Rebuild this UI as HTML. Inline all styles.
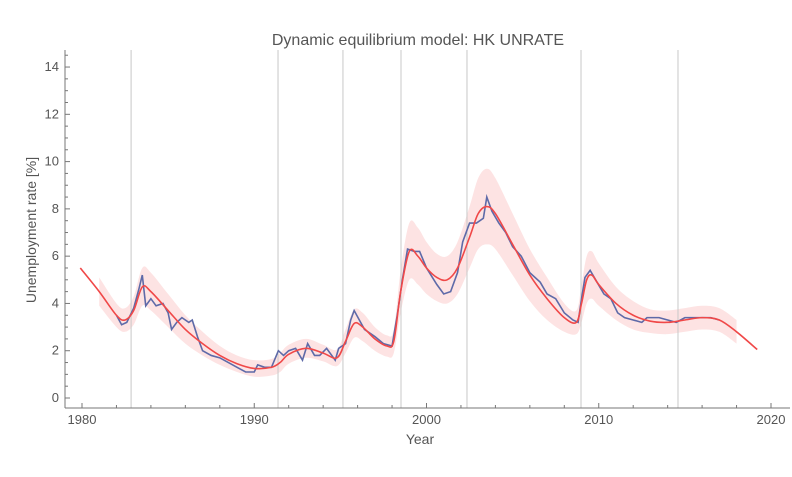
<!DOCTYPE html>
<html><head><meta charset="utf-8"><style>
body{margin:0;background:#fff;}
text{font-family:"Liberation Sans",sans-serif;fill:#555;}
</style></head><body>
<svg id="chart" width="792" height="472" xmlns="http://www.w3.org/2000/svg">
<text x="418" y="45" font-size="16" text-anchor="middle">Dynamic equilibrium model: HK UNRATE</text>
<text x="420" y="444" font-size="14" text-anchor="middle">Year</text>
<text transform="translate(36,230) rotate(-90)" font-size="14" text-anchor="middle">Unemployment rate [%]</text>
<g id="g"></g>
</svg>
<script>
const shockYears=[1982.85,1991.38,1995.15,1998.52,2002.35,2008.97,2014.6];
const modelYears=[1979.9,1981,1982,1982.5,1983,1983.5,1984,1985,1986,1987,1988,1989,1990,1991,1991.5,1992,1993,1994,1994.8,1995.3,1995.8,1996.3,1997,1997.7,1998.1,1998.5,1999,1999.5,2000,2000.6,2001.2,2001.8,2002.5,2003,2003.5,2004,2005,2006,2007,2008,2008.7,2009,2009.3,2009.6,2010,2011,2012,2013,2014,2015,2016,2017,2018,2019.2];
const modelValues=[5.5,4.5,3.5,3.3,3.7,4.7,4.5,3.7,2.9,2.3,1.8,1.45,1.25,1.3,1.5,1.85,2.1,1.9,1.7,2.4,3.15,3.0,2.5,2.2,2.4,4.5,6.2,6.0,5.5,5.1,5.0,5.5,6.8,7.8,8.1,7.8,6.5,5.2,4.2,3.4,3.2,4.0,5.0,5.2,4.8,4.0,3.5,3.25,3.2,3.3,3.4,3.3,2.8,2.05];
const bandWidth=[0,0.6,0.5,0.5,0.6,0.8,0.8,0.7,0.6,0.5,0.4,0.35,0.35,0.35,0.4,0.4,0.4,0.35,0.35,0.5,0.6,0.6,0.5,0.45,0.5,0.9,1.2,1.2,1.1,1.0,1.0,1.1,1.3,1.5,1.6,1.5,1.3,1.1,0.9,0.6,0.5,0.8,1.0,1.0,0.9,0.7,0.6,0.5,0.5,0.5,0.5,0.5,0.5,0];
const dataYears=[1982.0,1982.3,1982.6,1983.0,1983.3,1983.5,1983.7,1984.0,1984.3,1984.7,1985.0,1985.2,1985.5,1985.8,1986.2,1986.4,1986.7,1987,1987.5,1988,1988.5,1989,1989.5,1990,1990.2,1990.6,1991,1991.4,1991.7,1992,1992.4,1992.8,1993.1,1993.5,1993.8,1994.2,1994.5,1994.7,1994.9,1995.3,1995.6,1995.8,1996.1,1996.4,1997,1997.5,1998,1998.3,1998.6,1998.9,1999.3,1999.6,2000,2000.6,2001,2001.4,2001.8,2002.1,2002.5,2002.9,2003.3,2003.5,2003.8,2004.2,2004.6,2005,2005.5,2006,2006.6,2007,2007.5,2008,2008.5,2008.8,2009,2009.2,2009.5,2009.9,2010.3,2010.7,2011.1,2011.5,2012,2012.5,2012.8,2013.5,2014,2014.5,2015,2016.5,2017];
const dataValues=[3.5,3.1,3.2,3.8,4.6,5.2,3.9,4.2,3.9,4.0,3.6,2.9,3.2,3.4,3.2,3.3,2.6,2.0,1.8,1.7,1.5,1.3,1.1,1.1,1.4,1.3,1.3,2.0,1.8,2.0,2.1,1.6,2.3,1.8,1.8,2.1,1.8,1.6,2.1,2.3,3.3,3.7,3.3,2.9,2.6,2.3,2.2,3.5,5.0,6.3,6.2,6.2,5.5,4.8,4.4,4.5,5.3,6.6,7.4,7.4,7.6,8.5,7.9,7.4,7.0,6.4,6.0,5.3,4.9,4.4,4.2,3.6,3.3,3.2,4.2,5.1,5.4,4.9,4.4,4.2,3.6,3.4,3.3,3.2,3.4,3.4,3.3,3.2,3.4,3.4,3.3];
const xTicks=[1980,1990,2000,2010,2020];
const yTicks=[0,2,4,6,8,10,12,14];

const X=y=>82+(y-1980)*17.225;
const Y=v=>398-v*23.64;
const NS="http://www.w3.org/2000/svg";
const g=document.getElementById('g');
function mk(t,a){const e=document.createElementNS(NS,t);for(const k in a)e.setAttribute(k,a[k]);g.appendChild(e);return e;}
function smooth(pts,start){let d=(start?'M':'L')+pts[0].join(',');
for(let i=0;i<pts.length-1;i++){const p0=pts[Math.max(0,i-1)],p1=pts[i],p2=pts[i+1],p3=pts[Math.min(pts.length-1,i+2)];
d+=` C${p1[0]+(p2[0]-p0[0])/6},${p1[1]+(p2[1]-p0[1])/6} ${p2[0]-(p3[0]-p1[0])/6},${p2[1]-(p3[1]-p1[1])/6} ${p2[0]},${p2[1]}`;}return d;}
// band
let up=[],lo=[];
modelYears.forEach((yr,i)=>{if(yr<1980.9||yr>2018.3)return;up.push([X(yr),Y(modelValues[i]+bandWidth[i])]);lo.unshift([X(yr),Y(modelValues[i]-bandWidth[i])]);});
const band=mk('path',{d:smooth(up,true)+' '+smooth(lo,false)+' Z',fill:'#fde3e3'});


shockYears.forEach(s=>{const l=mk('line',{x1:X(s),x2:X(s),y1:50,y2:408,stroke:'#c8c8c8','stroke-width':1});

});
const dl=mk('polyline',{points:dataYears.map((y,i)=>X(y)+','+Y(dataValues[i])).join(' '),fill:'none',stroke:'#5e6aa8','stroke-width':1.6});


let pts=modelYears.map((y,i)=>[X(y),Y(modelValues[i])]);
const ml=mk('path',{d:smooth(pts,true),fill:'none',stroke:'#f04848','stroke-width':1.6});


// axes
const xa=mk('line',{x1:65,x2:790,y1:408,y2:408,stroke:'#777'});


const ya=mk('line',{x1:65,x2:65,y1:50,y2:408,stroke:'#777'});


for(let yr=1980;yr<=2022;yr+=2){mk('line',{x1:X(yr),x2:X(yr),y1:408,y2:yr%10===0?403:405,stroke:'#777'});}
for(let v=0;v<=14.5;v+=0.5){mk('line',{x1:65,x2:v%2===0?70:68,y1:Y(v),y2:Y(v),stroke:'#777'});}
xTicks.forEach(t=>{const e=mk('text',{x:X(t),y:424,'font-size':13,'text-anchor':'middle'});e.textContent=t;

});
yTicks.forEach(t=>{const e=mk('text',{x:59,y:Y(t)+4,'font-size':13,'text-anchor':'end'});e.textContent=t;

});
</script>
</body></html>
